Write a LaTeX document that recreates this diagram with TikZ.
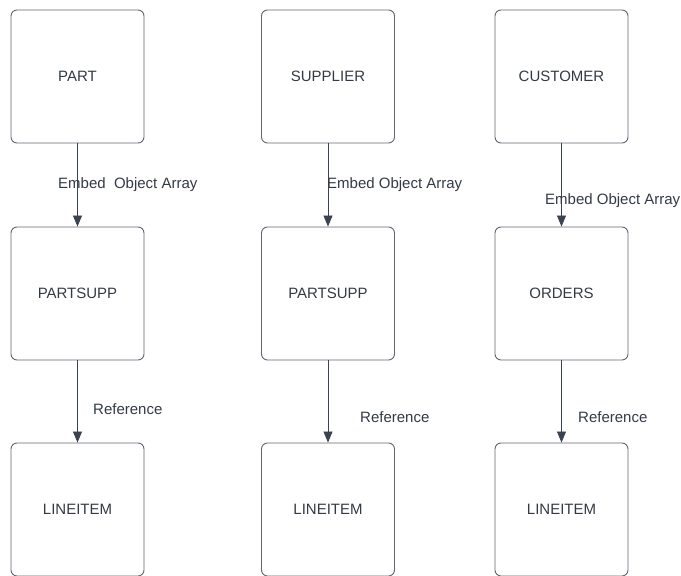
\documentclass[tikz,border=0pt]{standalone}
\usepackage{fontspec}
\setmainfont{Liberation Sans}
\usetikzlibrary{arrows.meta}
\definecolor{boxgray}{HTML}{5F6672}
\definecolor{textgray}{HTML}{333A44}
\definecolor{arrowgray}{HTML}{3B4350}
\tikzset{
  entity/.style={draw=boxgray, rounded corners=6pt, line width=0.9pt,
    minimum width=133pt, minimum height=133pt, text=textgray,
    font=\fontsize{15}{18}\selectfont},
  link/.style={draw=arrowgray, line width=0.8pt,
    -{Triangle[width=9pt,length=11pt]}},
  linklabel/.style={anchor=west, inner sep=0pt, text=textgray,
    font=\fontsize{15}{18}\selectfont}
}
\begin{document}
\begin{tikzpicture}[x=1pt,y=-1pt]
   \useasboundingbox (0,0) rectangle (681,576);

   % top row
   \node[entity] (part) at (77.5,76.5) {PART};
   \node[entity] (supplier) at (328,76.5) {SUPPLIER};
   \node[entity] (customer) at (561.5,76.5) {CUSTOMER};

   % middle row
   \node[entity] (partsuppA) at (77.5,293.5) {PARTSUPP};
   \node[entity] (partsuppB) at (328,293.5) {PARTSUPP};
   \node[entity] (orders) at (561.5,293.5) {ORDERS};

   % bottom row
   \node[entity] (lineitemA) at (77.5,509.5) {LINEITEM};
   \node[entity] (lineitemB) at (328,509.5) {LINEITEM};
   \node[entity] (lineitemC) at (561.5,509.5) {LINEITEM};

   \draw[link] (part) -- (partsuppA);
   \draw[link] (supplier) -- (partsuppB);
   \draw[link] (customer) -- (orders);
   \draw[link] (partsuppA) -- (lineitemA);
   \draw[link] (partsuppB) -- (lineitemB);
   \draw[link] (orders) -- (lineitemC);

   \node[linklabel] (embedA) at (58,184.5) {Embed~~Object Array};
   \node[linklabel] (embedB) at (327,184.5) {Embed Object Array};
   \node[linklabel] (embedC) at (545,200.5) {Embed Object Array};
   \node[linklabel] (refA) at (93,409.5) {Reference};
   \node[linklabel] (refB) at (360,417.5) {Reference};
   \node[linklabel] (refC) at (578,417.5) {Reference};

\end{tikzpicture}
\end{document}
